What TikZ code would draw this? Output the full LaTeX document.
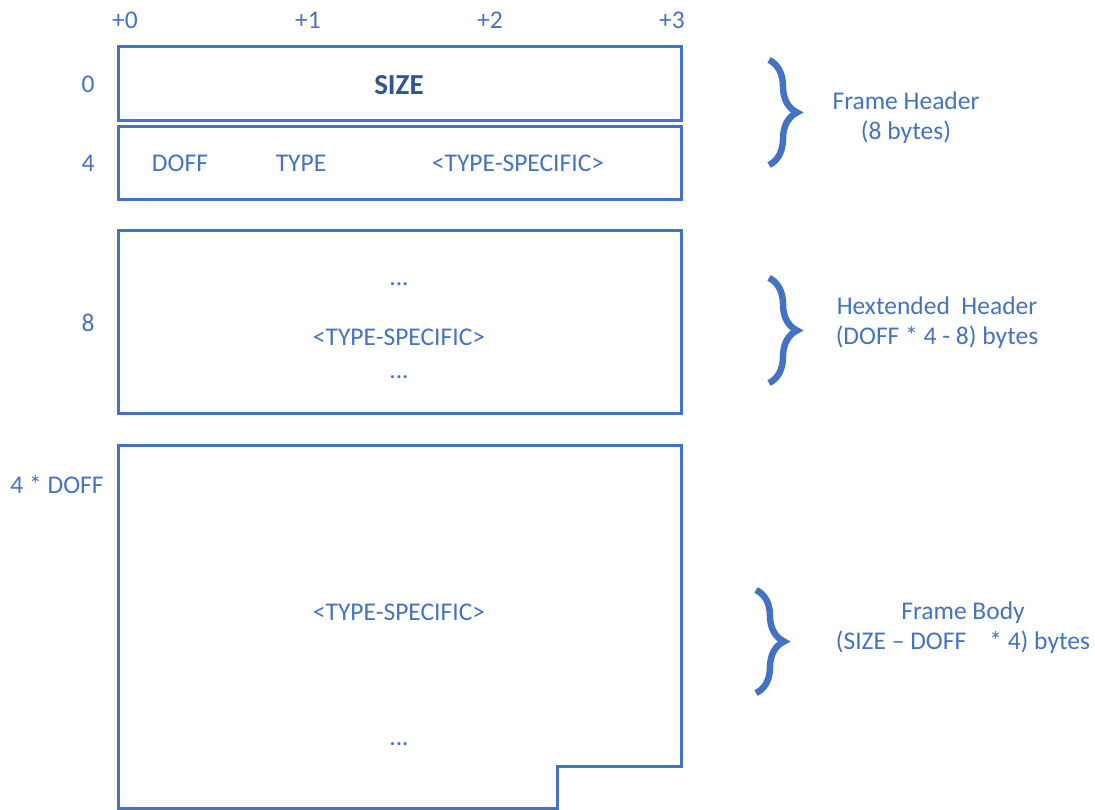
\documentclass[tikz,border=0pt]{standalone}
\usepackage{fontspec}
\setmainfont{Carlito}
\usetikzlibrary{decorations.pathreplacing}
\definecolor{ofblue}{HTML}{4472C4}
\definecolor{ofdark}{HTML}{2F5597}
\begin{document}
\begin{tikzpicture}[x=1pt,y=-1pt,
  lbl/.style={text=ofblue,font=\fontsize{25.5}{30}\selectfont,inner sep=0pt,anchor=center},
  boxn/.style={draw=ofblue,line width=3pt,anchor=north west,inner sep=0pt,outer sep=0pt},
  bracepath/.style={draw=ofblue,line width=6.5pt,decorate,decoration={brace,amplitude=28pt}}]
\useasboundingbox (0,0) rectangle (1095,810);
% offsets
\node[lbl] (c0) at (125,20) {+0};
\node[lbl] (c1) at (308,20) {+1};
\node[lbl] (c2) at (490,20) {+2};
\node[lbl] (c3) at (672,20) {+3};
% row labels
\node[lbl] (r0) at (88,84) {0};
\node[lbl] (r4) at (88,163) {4};
\node[lbl] (r8) at (88,323) {8};
\node[lbl] (rd) at (57,485) {4 * DOFF};
% boxes
\node[boxn,minimum width=563pt,minimum height=74pt] (b1) at (118,47) {};
\node[boxn,minimum width=563pt,minimum height=73pt] (b2) at (118,127) {};
\node[boxn,minimum width=563pt,minimum height=182pt] (b3) at (118,231) {};
\draw[ofblue,line width=3pt,line join=miter] (118,808.5) -- (118,445) -- (681,445) -- (681,766) -- (557,766) -- (557,808.5) -- cycle;
% box contents
\node[lbl,text=ofdark,font=\bfseries\fontsize{29}{32}\selectfont] (size) at (399,85) {SIZE};
\node[lbl] (doff) at (180,163) {DOFF};
\node[lbl] (type) at (301,163) {TYPE};
\node[lbl] (ts1) at (518,163) {<TYPE-SPECIFIC>};
\node[lbl] (d1) at (399,284) {...};
\node[lbl] (ts2) at (399,337) {<TYPE-SPECIFIC>};
\node[lbl] (d2) at (399,377) {...};
\node[lbl] (ts3) at (399,612) {<TYPE-SPECIFIC>};
\node[lbl] (d3) at (399,744) {...};
% braces
\coordinate (br1a) at (769,60);
\coordinate (br1b) at (769,165);
\coordinate (br2a) at (769,278);
\coordinate (br2b) at (769,383);
\coordinate (br3a) at (756,590);
\coordinate (br3b) at (756,693);
\draw[bracepath] (br1a) -- (br1b);
\draw[bracepath] (br2a) -- (br2b);
\draw[bracepath] (br3a) -- (br3b);
% brace labels
\node[lbl,align=center] (fh) at (906,118) {Frame Header\\(8 bytes)};
\node[lbl,align=center] (hh) at (937,323) {Hextended\ \ Header\\(DOFF * 4 - 8) bytes};
\node[lbl,align=center] (fb) at (963,628) {Frame Body\\(SIZE -- DOFF\ \ \ \ * 4) bytes};
\end{tikzpicture}
\end{document}
